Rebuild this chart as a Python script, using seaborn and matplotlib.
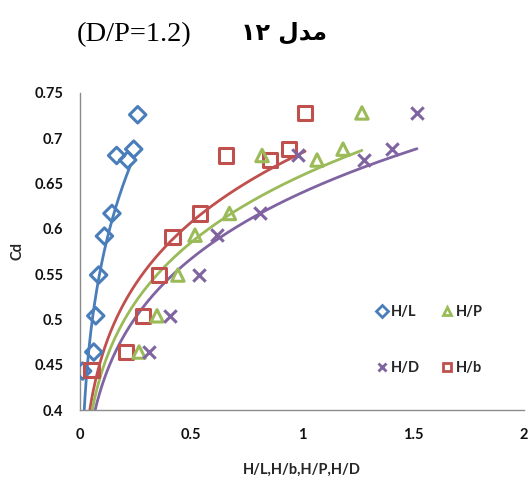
import numpy as np
import pandas as pd
import seaborn as sns
import matplotlib
matplotlib.use("Agg")
import matplotlib.pyplot as plt
from matplotlib.lines import Line2D

# Discharge coefficient Cd against four dimensionless head ratios
series_names = ["H/L", "H/b", "H/P", "H/D"]

hl_x = [0.012, 0.062, 0.071, 0.084, 0.110, 0.144, 0.165, 0.215, 0.242, 0.260]
hl_y = [0.443, 0.464, 0.504, 0.549, 0.592, 0.617, 0.681, 0.676, 0.688, 0.726]

hb_x = [0.053, 0.207, 0.284, 0.356, 0.416, 0.541, 0.658, 0.856, 0.941, 1.014]
hb_y = [0.444, 0.464, 0.504, 0.549, 0.591, 0.617, 0.681, 0.676, 0.688, 0.728]

hp_x = [0.266, 0.347, 0.441, 0.518, 0.673, 0.820, 1.068, 1.185, 1.270]
hp_y = [0.464, 0.504, 0.549, 0.593, 0.617, 0.681, 0.676, 0.688, 0.728]

hd_x = [0.311, 0.405, 0.536, 0.619, 0.811, 0.982, 1.279, 1.405, 1.518]
hd_y = [0.464, 0.504, 0.549, 0.593, 0.617, 0.681, 0.676, 0.688, 0.728]

# Power trendlines  Cd = c * x^p
trend_c = [0.912, 0.684, 0.659, 0.640]
trend_p = [0.208, 0.172, 0.172, 0.175]
trend_end = [0.228, 1.014, 1.270, 1.518]

x_ticks = [0, 0.5, 1, 1.5, 2]
x_tick_labels = ["0", "0.5", "1", "1.5", "2"]
y_ticks = [0.4, 0.45, 0.5, 0.55, 0.6, 0.65, 0.7, 0.75]
y_tick_labels = ["0.4", "0.45", "0.5", "0.55", "0.6", "0.65", "0.7", "0.75"]

colors = {"H/L": "#4A7EBB", "H/b": "#C0504D", "H/P": "#9BBB59", "H/D": "#8064A2"}
markers = {"H/L": "D", "H/b": "s", "H/P": "^", "H/D": "x"}
sizes = {"H/L": 70, "H/b": 110, "H/P": 80, "H/D": 80}

points = pd.concat([
    pd.DataFrame({"ratio": x, "Cd": y, "series": name})
    for name, x, y in zip(series_names,
                          [hl_x, hb_x, hp_x, hd_x],
                          [hl_y, hb_y, hp_y, hd_y])
], ignore_index=True)

curves = []
for name, c, p, end in zip(series_names, trend_c, trend_p, trend_end):
    xs = np.linspace(0.004, end, 400)
    curves.append(pd.DataFrame({"ratio": xs, "Cd": c * xs ** p, "series": name}))
curves = pd.concat(curves, ignore_index=True)

sns.set_style("white")
plt.rcParams["font.family"] = ["Lato", "DejaVu Sans"]

fig = plt.figure(figsize=(5.32, 4.84), dpi=100)
ax = fig.add_axes([80 / 532, 1 - 410 / 484, 444 / 532, 317 / 484])

# trendlines first, markers over them
for name in series_names:
    sub = curves[curves["series"] == name]
    sns.lineplot(data=sub, x="ratio", y="Cd", ax=ax, color=colors[name],
                 linewidth=2.0, sort=False, legend=False, zorder=2)

for name in series_names:
    sub = points[points["series"] == name]
    if markers[name] == "x":
        sns.scatterplot(data=sub, x="ratio", y="Cd", ax=ax, marker="x",
                        s=sizes[name], color=colors[name], linewidth=2.2,
                        legend=False, zorder=3)
    else:
        sns.scatterplot(data=sub, x="ratio", y="Cd", ax=ax, marker=markers[name],
                        s=sizes[name], facecolor="none", edgecolor=colors[name],
                        linewidth=2.2, legend=False, zorder=3)

ax.set_xlim(0, 2)
ax.set_ylim(0.4, 0.75)
ax.set_xticks(x_ticks)
ax.set_xticklabels(x_tick_labels)
ax.set_yticks(y_ticks)
ax.set_yticklabels(y_tick_labels)
ax.tick_params(axis="both", length=0, labelsize=10.5, colors="#111111")
ax.tick_params(axis="y", pad=12)
ax.tick_params(axis="x", pad=13)
for lab in ax.get_xticklabels() + ax.get_yticklabels():
    lab.set_fontweight("bold")

for side in ["top", "right"]:
    ax.spines[side].set_visible(False)
for side in ["left", "bottom"]:
    ax.spines[side].set_color("#8c8c8c")
    ax.spines[side].set_linewidth(1.0)

ax.set_xlabel("H/L,H/b,H/P,H/D", fontsize=10.5, fontweight="bold", labelpad=15)
ax.set_ylabel("Cd", fontsize=10.5, fontweight="bold", labelpad=7)
ax.grid(False)

# legend: two columns, H/L & H/D on the left, H/P & H/b on the right
order = ["H/L", "H/D", "H/P", "H/b"]
handles = []
for name in order:
    if markers[name] == "x":
        h = Line2D([], [], linestyle="none", marker="x", markersize=6,
                   markeredgewidth=2, color=colors[name])
    else:
        h = Line2D([], [], linestyle="none", marker=markers[name], markersize=6,
                   markerfacecolor="none", markeredgewidth=2,
                   markeredgecolor=colors[name])
    handles.append(h)
leg = ax.legend(handles, order, ncol=2, frameon=False, loc="upper left",
                bbox_to_anchor=(0.64, 0.372), handlelength=0.6, handletextpad=0.3,
                columnspacing=1.6, labelspacing=2.85,
                prop={"family": "Lato", "weight": "bold", "size": 10.5})

# header: parameter in serif, model caption in Arabic (presentation forms, visual order)
fig.text(77 / 532, 1 - 35 / 484, "(D/P=1.2)", family="Liberation Serif",
         fontsize=20.5, ha="left", va="center", color="black")
fig.text(241 / 532, 1 - 33 / 484, "\u06F1\u06F2 \uFEDD\uFEAA\uFEE3",
         family="DejaVu Sans", fontweight="bold", fontsize=17,
         ha="left", va="center", color="black")

fig.savefig("out.png", dpi=100)
